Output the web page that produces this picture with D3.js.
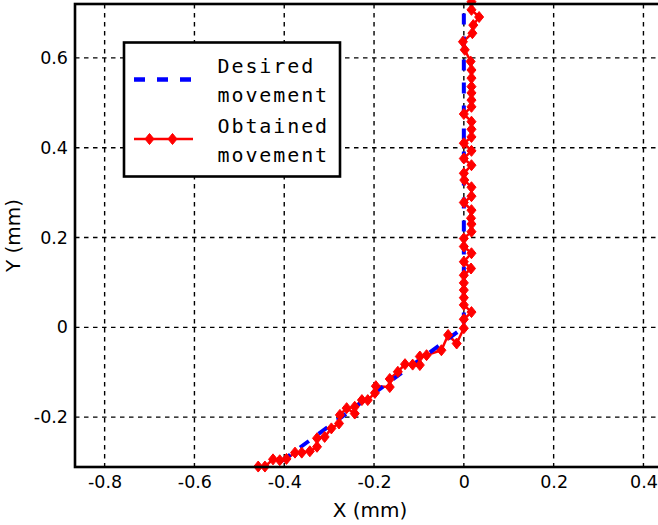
<!DOCTYPE html>
<html><head><meta charset="utf-8">
<script src="https://cdn.jsdelivr.net/npm/d3@7"></script>
<style>
html,body{margin:0;padding:0;background:#fff;overflow:hidden;}
svg{display:block;}
</style></head>
<body>
<script>
const xTicks = [-0.8, -0.6, -0.4, -0.2, 0, 0.2, 0.4];
const xTickLabels = ["-0.8", "-0.6", "-0.4", "-0.2", "0", "0.2", "0.4"];
const yTicks = [-0.2, 0, 0.2, 0.4, 0.6];
const yTickLabels = ["-0.2", "0", "0.2", "0.4", "0.6"];

const desiredX = [0, 0, -0.45];
const desiredY = [0.75, 0, -0.33];

const obtainedX = [-0.458,-0.443,-0.425,-0.410,-0.395,-0.376,-0.361,-0.343,-0.327,-0.327,-0.310,-0.295,-0.278,-0.276,-0.261,-0.243,-0.243,-0.227,-0.214,-0.198,-0.196,-0.165,-0.165,-0.147,-0.131,-0.114,-0.098,-0.098,-0.083,-0.050,-0.035,-0.016,0,
  0,0.017,0,0,0,0,0,0.016,0,0.017,0,0,0.017,0.017,0.016,0.017,0,0.017,0.017,0.001,0,0.017,0,0.017,0,0.017,0.017,0.017,0,0.017,0.017,0.017,0.017,0.017,0.017,0.015,0.002,-0.002,0.019,0.021,0.034,0.017,0.017];
const obtainedY = [-0.310,-0.310,-0.294,-0.296,-0.293,-0.279,-0.279,-0.276,-0.266,-0.247,-0.244,-0.225,-0.214,-0.195,-0.180,-0.192,-0.177,-0.162,-0.162,-0.146,-0.131,-0.133,-0.115,-0.099,-0.082,-0.083,-0.084,-0.065,-0.062,-0.051,-0.017,-0.036,-0.002,
  0.018,0.034,0.050,0.066,0.083,0.099,0.116,0.131,0.146,0.165,0.180,0.198,0.213,0.230,0.243,0.261,0.278,0.292,0.312,0.328,0.343,0.361,0.376,0.393,0.410,0.424,0.441,0.458,0.475,0.491,0.506,0.522,0.536,0.555,0.573,0.592,0.618,0.636,0.655,0.673,0.691,0.707,0.725];

const W = 658, H = 525;
const L = 75, R = 665, T = 4, B = 467;
const xDomain = [-0.866, 0.448];
const yDomain = [-0.311, 0.72];

const svg = d3.select("body").append("svg").attr("width", W).attr("height", H);
const x = d3.scaleLinear().domain(xDomain).range([L, R]);
const y = d3.scaleLinear().domain(yDomain).range([B, T]);

svg.append("defs").append("clipPath").attr("id","clip")
  .append("rect").attr("x", L).attr("y", T).attr("width", R - L).attr("height", B - T);

// grid
const grid = svg.append("g");
grid.selectAll(".gx").data(xTicks).enter().append("line")
  .attr("x1", d => x(d)).attr("x2", d => x(d)).attr("y1", T).attr("y2", B)
  .attr("stroke", "#000").attr("stroke-width", 1.4).attr("stroke-dasharray", "4.5,4.5");
grid.selectAll(".gy").data(yTicks).enter().append("line")
  .attr("y1", d => y(d)).attr("y2", d => y(d)).attr("x1", L).attr("x2", R)
  .attr("stroke", "#000").attr("stroke-width", 1.4).attr("stroke-dasharray", "4.5,4.5");

// axes labels via d3 axes
const xAxis = d3.axisBottom(x).tickValues(xTicks).tickSize(0).tickPadding(10)
  .tickFormat((d, i) => xTickLabels[i]);
const gx = svg.append("g").attr("transform", `translate(0,${B})`).call(xAxis);
gx.select(".domain").remove();
gx.selectAll("text").attr("font-family", "DejaVu Sans").attr("font-size", 17.5).attr("fill", "#000")
  .attr("dy", "0.71em").attr("y", 9);

const yAxis = d3.axisLeft(y).tickValues(yTicks).tickSize(0).tickPadding(7)
  .tickFormat((d, i) => yTickLabels[i]);
const gy = svg.append("g").attr("transform", `translate(${L},0)`).call(yAxis);
gy.select(".domain").remove();
gy.selectAll("text").attr("font-family", "DejaVu Sans").attr("font-size", 17.5).attr("fill", "#000");

// data
const plot = svg.append("g").attr("clip-path", "url(#clip)");
const obtained = obtainedX.map((v, i) => [v, obtainedY[i]]);
const desired = desiredX.map((v, i) => [v, desiredY[i]]);
const line = d3.line().x(d => x(d[0])).y(d => y(d[1]));

plot.append("path").attr("d", line(obtained)).attr("fill", "none")
  .attr("stroke", "#ff0000").attr("stroke-width", 2.5).attr("stroke-linejoin", "round");

const diamond = "M0,-5.5L4.5,0L0,5.5L-4.5,0Z";
svg.append("g").selectAll("path").data(obtained.filter(d => d[1] <= yDomain[1] + 0.005 && d[1] >= yDomain[0] - 0.005))
  .enter().append("path").attr("d", diamond)
  .attr("transform", d => `translate(${x(d[0])},${y(d[1])})`)
  .attr("fill", "#ff0000").attr("stroke", "#ff0000").attr("stroke-width", 1);

plot.append("path").attr("d", line(desired)).attr("fill", "none")
  .attr("stroke", "#0000ff").attr("stroke-width", 4).attr("stroke-dasharray", "11,12");

// frame
svg.append("rect").attr("x", L).attr("y", T).attr("width", R - L).attr("height", B - T)
  .attr("fill", "none").attr("stroke", "#000").attr("stroke-width", 2.6);

// axis titles
svg.append("text").attr("x", (L + R) / 2).attr("y", 517).attr("text-anchor", "middle")
  .attr("font-family", "DejaVu Sans").attr("font-size", 20).text("X (mm)");
svg.append("text").attr("transform", `translate(20,${(T + B) / 2}) rotate(-90)`).attr("text-anchor", "middle")
  .attr("font-family", "DejaVu Sans").attr("font-size", 20).text("Y (mm)");

// legend
const lg = svg.append("g");
lg.append("rect").attr("x", 124).attr("y", 42.5).attr("width", 216).attr("height", 134)
  .attr("fill", "#fff").attr("stroke", "#000").attr("stroke-width", 2.6);
lg.append("line").attr("x1", 134).attr("x2", 193).attr("y1", 79.5).attr("y2", 79.5)
  .attr("stroke", "#0000ff").attr("stroke-width", 4.5).attr("stroke-dasharray", "11,12");
lg.append("line").attr("x1", 134).attr("x2", 193).attr("y1", 139).attr("y2", 139)
  .attr("stroke", "#ff0000").attr("stroke-width", 2.5);
[149.5, 172.5].forEach(px => {
  lg.append("path").attr("d", diamond).attr("transform", `translate(${px},139)`)
    .attr("fill", "#ff0000").attr("stroke", "#ff0000").attr("stroke-width", 1);
});
const legText = [["Desired", 73], ["movement", 101.5], ["Obtained", 132.5], ["movement", 161.5]];
legText.forEach(([t, yy]) => {
  lg.append("text").attr("x", 217.5).attr("y", yy).attr("font-family", "DejaVu Sans Mono")
    .attr("font-size", 20).attr("letter-spacing", 1.9).text(t);
});
</script>
</body></html>
